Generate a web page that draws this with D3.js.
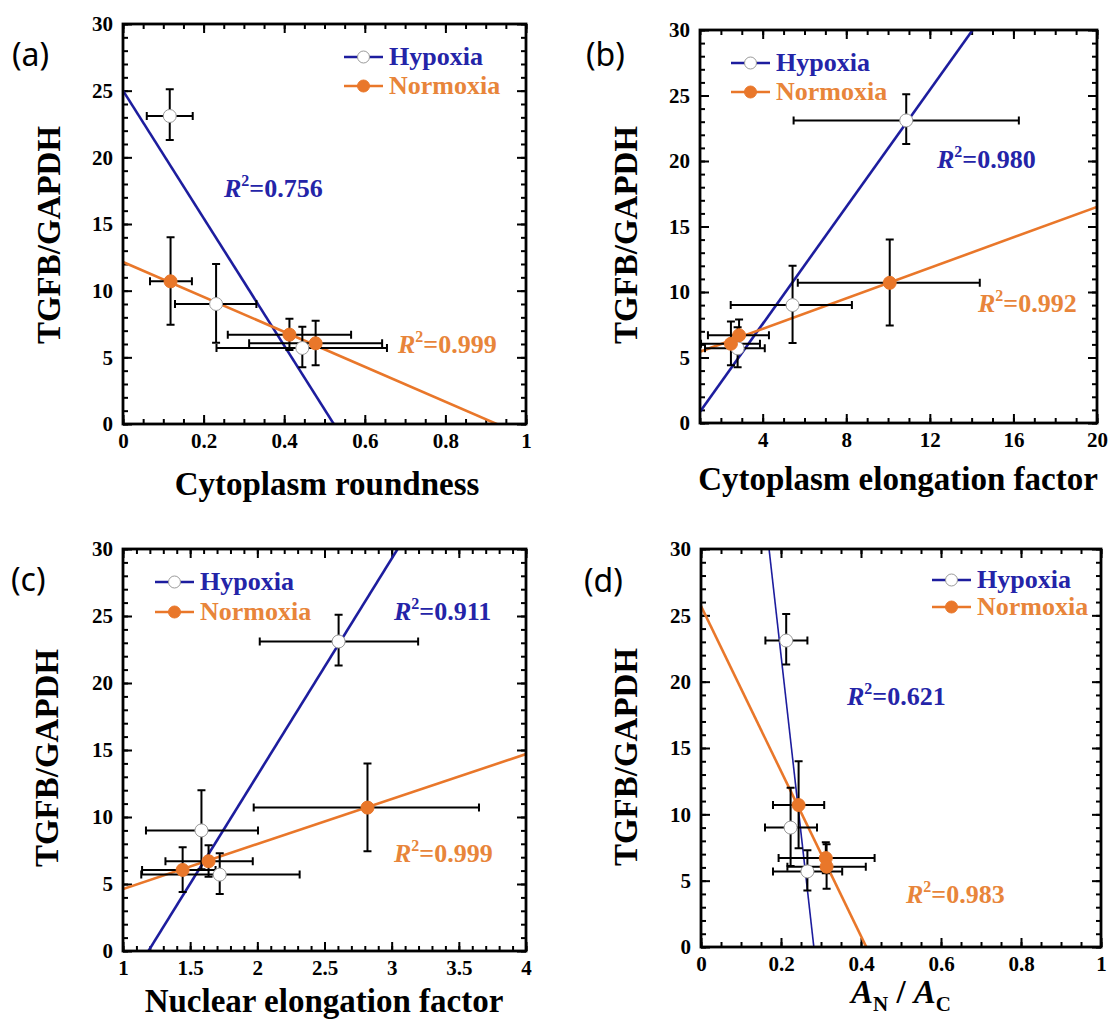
<!DOCTYPE html>
<html><head><meta charset="utf-8">
<script src="https://cdn.jsdelivr.net/npm/d3@7"></script>
<style>
body{margin:0;background:#fff;}
svg{display:block;}
</style></head><body>
<svg id="chart" width="1108" height="1021"></svg>
<script>
// ---------------- data ----------------
const seriesNames = ["Hypoxia", "Normoxia"];
const panelLabels = ["(a)", "(b)", "(c)", "(d)"];
const xTitles = ["Cytoplasm roundness", "Cytoplasm elongation factor", "Nuclear elongation factor", null];
const xTitleD = [["A", "italic", 0], ["N", "normal", 1], [" / ", "normal", 0], ["A", "italic", 0], ["C", "normal", 1]];
const yTitle = "TGFB/GAPDH";
const xDomains = [[0, 1], [1, 20], [1, 4], [0, 1]];
const yDomain = [0, 30];
const xMajorTicks = [[0, 0.2, 0.4, 0.6, 0.8, 1], [4, 8, 12, 16, 20], [1, 1.5, 2, 2.5, 3, 3.5, 4], [0, 0.2, 0.4, 0.6, 0.8, 1]];
const xMinorStep = [0.05, 1, 0.1, 0.05];
const yMajorTicks = [0, 5, 10, 15, 20, 25, 30];
const yMinorStep = 1;

// shared y values (TGFB/GAPDH) with error bounds
const hypoxiaY = [23.1, 9.0, 5.7];
const hypoxiaYLo = [21.3, 6.1, 4.25];
const hypoxiaYHi = [25.1, 12.0, 7.3];
const normoxiaY = [10.7, 6.7, 6.05];
const normoxiaYLo = [7.45, 5.55, 4.4];
const normoxiaYHi = [14.0, 7.9, 7.75];

// x values per panel (a..d) with error bounds
const hypoxiaX = [[0.116, 0.231, 0.445], [10.87, 5.43, 2.80], [2.605, 1.584, 1.72], [0.213, 0.224, 0.266]];
const hypoxiaXLo = [[0.059, 0.129, 0.232], [5.48, 2.47, 1.24], [2.018, 1.171, 1.136], [0.161, 0.16, 0.18]];
const hypoxiaXHi = [[0.173, 0.331, 0.655], [16.26, 8.27, 4.1], [3.197, 2.005, 2.315], [0.266, 0.29, 0.353]];
const normoxiaX = [[0.118, 0.413, 0.478], [10.08, 2.87, 2.48], [2.82, 1.637, 1.444], [0.244, 0.312, 0.314]];
const normoxiaXLo = [[0.067, 0.26, 0.313], [5.68, 1.38, 1.05], [1.973, 1.316, 1.142], [0.18, 0.194, 0.216]];
const normoxiaXHi = [[0.171, 0.566, 0.643], [14.39, 4.3, 3.87], [3.65, 1.966, 1.689], [0.308, 0.434, 0.412]];

// linear fits per panel
const hypoxiaFitIntercept = [25.0, -1.37, -19.23, 75.6];
const hypoxiaFitSlope = [-47.8, 2.233, 16.17, -268];
const normoxiaFitIntercept = [12.15, 4.86, 1.27, 25.7];
const normoxiaFitSlope = [-13.1, 0.582, 3.357, -62.2];
const hypoxiaR2 = ["0.756", "0.980", "0.911", "0.621"];
const normoxiaR2 = ["0.999", "0.992", "0.999", "0.983"];

// ---------------- layout ----------------
const layout = [
  {x0: 123, x1: 526, y0: 24, y1: 424, label: [12, 66], xt: [327, 495], yt: [60, 235], leg: [344, 57, 86], r2h: [224, 197], r2n: [398, 353], hypW: 2.6},
  {x0: 700, x1: 1097, y0: 30, y1: 423, label: [586, 66], xt: [898, 490], yt: [637, 235], leg: [731, 63, 92], r2h: [937, 168], r2n: [978, 312], hypW: 2.6},
  {x0: 123, x1: 526, y0: 549, y1: 951, label: [11, 591], xt: [324, 1012], yt: [58, 758], leg: [155, 582, 612], r2h: [394, 620], r2n: [394, 862], hypW: 2.6},
  {x0: 701, x1: 1101, y0: 549, y1: 947, label: [584, 592], xt: [901, 1003], yt: [637, 757], leg: [932, 580, 607], r2h: [847, 705], r2n: [906, 903], hypW: 1.6}
];
const BLUE = "#1d1d9e";
const ORANGE = "#e9772a";
const BLUE_T = "#2424a8";
const ORANGE_T = "#e8853a";
const SERIF = "'Liberation Serif','Times New Roman',serif";
const SANS = "'Noto Sans','Open Sans',sans-serif";

const svg = d3.select("#chart");
svg.append("rect").attr("width", 1108).attr("height", 1021).attr("fill", "#fff");

function fmt(d) { return String(+d.toFixed(2)); }

layout.forEach((L, p) => {
  const w = L.x1 - L.x0, h = L.y1 - L.y0;
  const x = d3.scaleLinear().domain(xDomains[p]).range([0, w]);
  const y = d3.scaleLinear().domain(yDomain).range([h, 0]);
  const g = svg.append("g").attr("transform", `translate(${L.x0},${L.y0})`);

  const clipId = "clip" + p;
  g.append("clipPath").attr("id", clipId).append("rect").attr("width", w).attr("height", h);

  const xd = xDomains[p];
  const xMinor = d3.range(Math.round(xd[0] / xMinorStep[p]), Math.round(xd[1] / xMinorStep[p]) + 1).map(i => +(i * xMinorStep[p]).toFixed(4));
  const yMinor = d3.range(yDomain[0], yDomain[1] + 0.001, yMinorStep);

  function styleAxis(sel) {
    sel.attr("font-family", SERIF).attr("font-size", 21).attr("font-weight", "bold");
    sel.select(".domain").remove();
    sel.selectAll(".tick line").attr("stroke", "#000").attr("stroke-width", 2);
    sel.selectAll(".tick text").attr("font-family", SERIF).attr("font-weight", "bold").attr("font-size", 21).attr("fill", "#000");
  }
  // minor ticks
  g.append("g").attr("transform", `translate(0,${h})`).call(d3.axisBottom(x).tickValues(xMinor).tickSize(-5).tickFormat("")).call(styleAxis);
  g.append("g").call(d3.axisTop(x).tickValues(xMinor).tickSize(-5).tickFormat("")).call(styleAxis);
  g.append("g").call(d3.axisLeft(y).tickValues(yMinor).tickSize(-5).tickFormat("")).call(styleAxis);
  g.append("g").attr("transform", `translate(${w},0)`).call(d3.axisRight(y).tickValues(yMinor).tickSize(-5).tickFormat("")).call(styleAxis);
  // major ticks
  g.append("g").attr("transform", `translate(0,${h})`).call(d3.axisBottom(x).tickValues(xMajorTicks[p]).tickSize(-9).tickPadding(9).tickFormat(fmt)).call(styleAxis);
  g.append("g").call(d3.axisTop(x).tickValues(xMajorTicks[p]).tickSize(-9).tickFormat("")).call(styleAxis);
  g.append("g").call(d3.axisLeft(y).tickValues(yMajorTicks).tickSize(-9).tickPadding(10).tickFormat(fmt)).call(styleAxis);
  g.append("g").attr("transform", `translate(${w},0)`).call(d3.axisRight(y).tickValues(yMajorTicks).tickSize(-9).tickFormat("")).call(styleAxis);

  // fit lines
  const fits = [
    {b: hypoxiaFitIntercept[p], m: hypoxiaFitSlope[p], c: BLUE, sw: L.hypW},
    {b: normoxiaFitIntercept[p], m: normoxiaFitSlope[p], c: ORANGE, sw: 2.6}
  ];
  const line = d3.line().x(d => x(d[0])).y(d => y(d[1]));
  fits.forEach(f => {
    g.append("path").attr("clip-path", `url(#${clipId})`)
      .attr("d", line(xd.map(v => [v, f.b + f.m * v])))
      .attr("fill", "none").attr("stroke", f.c).attr("stroke-width", f.sw);
  });

  // points with error bars
  const series = [
    {xs: hypoxiaX[p], xl: hypoxiaXLo[p], xh: hypoxiaXHi[p], ys: hypoxiaY, yl: hypoxiaYLo, yh: hypoxiaYHi, fill: "#fff", stroke: "#9a9a9a", sw: 1},
    {xs: normoxiaX[p], xl: normoxiaXLo[p], xh: normoxiaXHi[p], ys: normoxiaY, yl: normoxiaYLo, yh: normoxiaYHi, fill: ORANGE, stroke: ORANGE, sw: 1}
  ];
  const cap = 4;
  const eb = g.append("g").attr("stroke", "#000").attr("stroke-width", 2).attr("fill", "none");
  series.forEach(s => {
    s.xs.forEach((xv, i) => {
      const cx = x(xv), cy = y(s.ys[i]);
      const xl = x(s.xl[i]), xh = x(s.xh[i]), yl = y(s.yl[i]), yh = y(s.yh[i]);
      eb.append("path").attr("d",
        `M${xl},${cy}H${xh}M${xl},${cy - cap}V${cy + cap}M${xh},${cy - cap}V${cy + cap}` +
        `M${cx},${yl}V${yh}M${cx - cap},${yl}H${cx + cap}M${cx - cap},${yh}H${cx + cap}`);
    });
  });
  series.forEach(s => {
    s.xs.forEach((xv, i) => {
      g.append("circle").attr("cx", x(xv)).attr("cy", y(s.ys[i])).attr("r", 6.5)
        .attr("fill", s.fill).attr("stroke", s.stroke).attr("stroke-width", s.sw);
    });
  });

  // frame
  g.append("rect").attr("width", w).attr("height", h).attr("fill", "none").attr("stroke", "#000").attr("stroke-width", 2.8);

  // panel label
  svg.append("text").attr("x", L.label[0]).attr("y", L.label[1]).attr("font-family", SANS)
    .attr("font-size", 32).attr("fill", "#000").text(panelLabels[p]);

  // x title
  const xt = svg.append("text").attr("x", L.xt[0]).attr("y", L.xt[1]).attr("text-anchor", "middle")
    .attr("font-family", SERIF).attr("font-weight", "bold").attr("font-size", 33).attr("fill", "#000");
  if (xTitles[p]) {
    xt.text(xTitles[p]);
  } else {
    let prevSub = 0;
    xTitleD.forEach(part => {
      const ts = xt.append("tspan").attr("font-style", part[1]).text(part[0]);
      const sub = part[2];
      if (sub !== prevSub) ts.attr("dy", sub ? 8 : -8);
      if (sub) ts.attr("font-size", 21);
      prevSub = sub;
    });
  }

  // y title
  svg.append("text").attr("transform", `translate(${L.yt[0]},${L.yt[1]}) rotate(-90)`)
    .attr("text-anchor", "middle").attr("font-family", SERIF).attr("font-weight", "bold")
    .attr("font-size", 33).attr("fill", "#000").text(yTitle);

  // legend
  const legItems = [
    {name: seriesNames[0], c: BLUE, tc: BLUE_T, fill: "#fff", stroke: "#9a9a9a", y: L.leg[1]},
    {name: seriesNames[1], c: ORANGE, tc: ORANGE_T, fill: ORANGE, stroke: ORANGE, y: L.leg[2]}
  ];
  legItems.forEach(it => {
    svg.append("line").attr("x1", L.leg[0]).attr("x2", L.leg[0] + 39).attr("y1", it.y).attr("y2", it.y)
      .attr("stroke", it.c).attr("stroke-width", 2.4);
    svg.append("circle").attr("cx", L.leg[0] + 19.5).attr("cy", it.y).attr("r", 6)
      .attr("fill", it.fill).attr("stroke", it.stroke).attr("stroke-width", 1);
    svg.append("text").attr("x", L.leg[0] + 45).attr("y", it.y + 8)
      .attr("font-family", SERIF).attr("font-weight", "bold").attr("font-size", 26)
      .attr("fill", it.tc).text(it.name);
  });

  // R^2 labels
  function r2(pos, val, color) {
    const t = svg.append("text").attr("x", pos[0]).attr("y", pos[1]).attr("fill", color)
      .attr("font-family", SERIF).attr("font-weight", "bold").attr("font-size", 26);
    t.append("tspan").attr("font-style", "italic").text("R");
    t.append("tspan").attr("font-size", 16).attr("dy", -11).text("2");
    t.append("tspan").attr("dy", 11).text("=" + val);
  }
  r2(L.r2h, hypoxiaR2[p], BLUE_T);
  r2(L.r2n, normoxiaR2[p], ORANGE_T);
});
</script>
</body></html>
